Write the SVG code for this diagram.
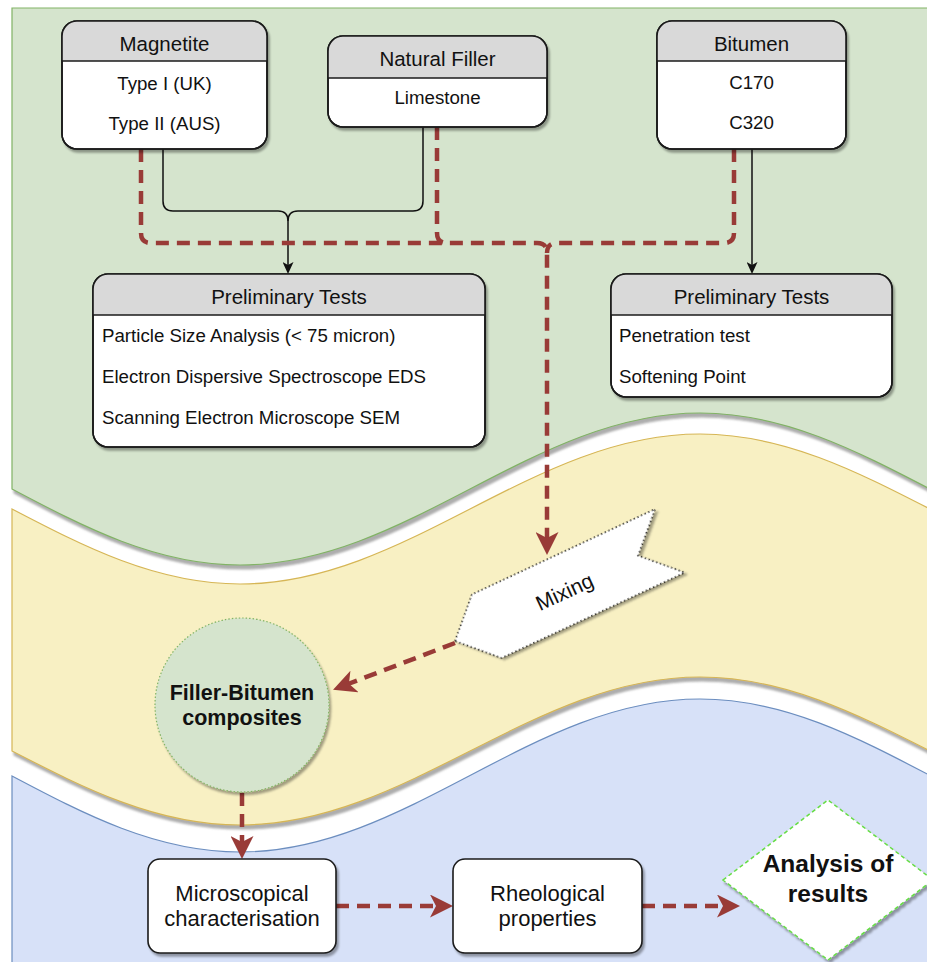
<svg xmlns="http://www.w3.org/2000/svg" width="927" height="962" viewBox="0 0 927 962">
<defs>
<style>
text{font-family:"Liberation Sans",Arial,Helvetica,sans-serif;fill:#111}
.hd{font-size:20.5px;text-anchor:middle}
.bd{font-size:18.7px}
.bc{text-anchor:middle}
.big{font-size:22px;text-anchor:middle}
.bold{font-weight:bold}
.box{fill:#fff;stroke:#1a1a1a;stroke-width:1.6}
.hdr{fill:#d9d9d9}
.ln{stroke:#1a1a1a;stroke-width:1.6;fill:none}
.blk{fill:none;stroke:#111;stroke-width:1.5}
.red{fill:none;stroke:#993b37;stroke-width:4.5;stroke-dasharray:13 8}
</style>
<filter id="sh" x="-10%" y="-10%" width="130%" height="130%">
<feDropShadow dx="2" dy="3" stdDeviation="1.2" flood-color="#000" flood-opacity="0.35"/>
</filter>
<filter id="bsh" x="-5%" y="-5%" width="115%" height="120%">
<feDropShadow dx="2" dy="4" stdDeviation="1" flood-color="#777" flood-opacity="0.6"/>
</filter>
<marker id="ar" viewBox="0 0 23 23" refX="7" refY="11.5" markerWidth="23" markerHeight="23" markerUnits="userSpaceOnUse" orient="auto">
<path d="M0,0 L23,11.5 L0,23 L6,11.5 Z" fill="#993b37"/>
</marker>
<marker id="ab" viewBox="0 0 12 11" refX="3" refY="5.5" markerWidth="12" markerHeight="11" markerUnits="userSpaceOnUse" orient="auto">
<path d="M0,0 L12,5.5 L0,11 L3,5.5 Z" fill="#111"/>
</marker>
</defs>

<g id="bands">
<path id="blue-band" d="M12,776 C84,814 156,852 240,852 C407.5,852 532.5,699 700,699 C867.5,699 992.5,852 1160,852 V970 H12 Z" fill="#d7e1f8" stroke="#6c8ebf" stroke-width="1.2"/>
<path id="yellow-band" filter="url(#bsh)" d="M12,509 C84,546.5 156,584 240,584 C407.5,584 532.5,434 700,434 C867.5,434 992.5,584 1160,584 V825 C992.5,825 867.5,677 700,677 C532.5,677 407.5,825 240,825 C156,825 84,788 12,751 Z" fill="#f8f0c3" stroke="#d6b656" stroke-width="1.2"/>
<path id="green-band" filter="url(#bsh)" d="M12,8 H1160 V565 C992.5,565 867.5,413 700,413 C532.5,413 407.5,565 240,565 C156,565 84,527 12,489 Z" fill="#d5e4cd" stroke="#82b366" stroke-width="1.2"/>
</g>

<g id="connectors">
<path class="blk" d="M163,149 V201 Q163,211 173,211 H278 Q288,211 288,221 V265" marker-end="url(#ab)"/>
<path class="blk" d="M423,127 V201 Q423,211 413,211 H298 Q288,211 288,221"/>
<path class="blk" d="M752,149 V265" marker-end="url(#ab)"/>
<path class="red" d="M141,149 V233 Q141,243 151,243 H537 Q547,243 547,253 V539" marker-end="url(#ar)"/>
<path class="red" d="M437,127 V233 Q437,243 447,243"/>
<path class="red" d="M734,149 V233 Q734,243 724,243 H557 Q547,243 547,253"/>
<path class="red" d="M455,643 L348,684" marker-end="url(#ar)"/>
<path class="red" d="M242,793 V843" marker-end="url(#ar)"/>
<path class="red" d="M336,906 H437" marker-end="url(#ar)"/>
<path class="red" d="M642,906 H724" marker-end="url(#ar)"/>
</g>

<g id="magnetite">
<rect class="box" x="62" y="21" width="205" height="128" rx="15" filter="url(#sh)"/>
<path class="hdr" d="M62,61 V36 A15,15 0 0 1 77,21 H252 A15,15 0 0 1 267,36 V61 Z"/>
<rect x="62" y="21" width="205" height="128" rx="15" fill="none" stroke="#1a1a1a" stroke-width="1.6"/>
<line class="ln" x1="62" y1="61" x2="267" y2="61"/>
<text class="hd" x="164.5" y="50.5">Magnetite</text>
<text class="bd bc" x="164.5" y="89.5">Type I (UK)</text>
<text class="bd bc" x="164.5" y="129.5">Type II (AUS)</text>
</g>

<g id="natural-filler">
<rect class="box" x="328" y="36" width="219" height="91" rx="15" filter="url(#sh)"/>
<path class="hdr" d="M328,78 V51 A15,15 0 0 1 343,36 H532 A15,15 0 0 1 547,51 V78 Z"/>
<rect x="328" y="36" width="219" height="91" rx="15" fill="none" stroke="#1a1a1a" stroke-width="1.6"/>
<line class="ln" x1="328" y1="78" x2="547" y2="78"/>
<text class="hd" x="437.5" y="66">Natural Filler</text>
<text class="bd bc" x="437.5" y="103.5">Limestone</text>
</g>

<g id="bitumen">
<rect class="box" x="657" y="21" width="189" height="128" rx="15" filter="url(#sh)"/>
<path class="hdr" d="M657,61 V36 A15,15 0 0 1 672,21 H831 A15,15 0 0 1 846,36 V61 Z"/>
<rect x="657" y="21" width="189" height="128" rx="15" fill="none" stroke="#1a1a1a" stroke-width="1.6"/>
<line class="ln" x1="657" y1="61" x2="846" y2="61"/>
<text class="hd" x="751.5" y="50.5">Bitumen</text>
<text class="bd bc" x="751.5" y="88.5">C170</text>
<text class="bd bc" x="751.5" y="128.5">C320</text>
</g>

<g id="prelim-filler">
<rect class="box" x="93" y="274" width="392" height="173" rx="15" filter="url(#sh)"/>
<path class="hdr" d="M93,315 V289 A15,15 0 0 1 108,274 H470 A15,15 0 0 1 485,289 V315 Z"/>
<rect x="93" y="274" width="392" height="173" rx="15" fill="none" stroke="#1a1a1a" stroke-width="1.6"/>
<line class="ln" x1="93" y1="315" x2="485" y2="315"/>
<text class="hd" x="289" y="304">Preliminary Tests</text>
<text class="bd" x="102" y="342">Particle Size Analysis (&lt; 75 micron)</text>
<text class="bd" x="102" y="383">Electron Dispersive Spectroscope EDS</text>
<text class="bd" x="102" y="423.5">Scanning Electron Microscope SEM</text>
</g>

<g id="prelim-bitumen">
<rect class="box" x="611" y="274" width="281" height="123" rx="15" filter="url(#sh)"/>
<path class="hdr" d="M611,315 V289 A15,15 0 0 1 626,274 H877 A15,15 0 0 1 892,289 V315 Z"/>
<rect x="611" y="274" width="281" height="123" rx="15" fill="none" stroke="#1a1a1a" stroke-width="1.6"/>
<line class="ln" x1="611" y1="315" x2="892" y2="315"/>
<text class="hd" x="751.5" y="304">Preliminary Tests</text>
<text class="bd" x="619" y="342">Penetration test</text>
<text class="bd" x="619" y="383">Softening Point</text>
</g>

<g id="mixing" transform="translate(455,641) rotate(-25)">
<polygon points="0,0 35,-35 237,-35 202,0 237,35 35,35" fill="#fff" stroke="#111" stroke-width="1.5" stroke-dasharray="1.5 2.5" filter="url(#sh)"/>
<text x="120" y="9" style="font-size:21px;text-anchor:middle">Mixing</text>
</g>

<g id="filler-bitumen">
<circle cx="242" cy="705" r="87" fill="#d5e4cd" stroke="#82b366" stroke-width="1.2" stroke-dasharray="1.5 2" filter="url(#sh)"/>
<text class="bold" x="242" y="700" style="font-size:21.5px;text-anchor:middle">Filler-Bitumen</text>
<text class="bold" x="242" y="725" style="font-size:21.5px;text-anchor:middle">composites</text>
</g>

<g id="microscopical">
<rect class="box" x="148" y="859" width="188" height="94" rx="12" filter="url(#sh)"/>
<text class="big" x="242" y="901">Microscopical</text>
<text class="big" x="242" y="926">characterisation</text>
</g>

<g id="rheological">
<rect class="box" x="453" y="859" width="189" height="94" rx="12" filter="url(#sh)"/>
<text class="big" x="547.5" y="901">Rheological</text>
<text class="big" x="547.5" y="926">properties</text>
</g>

<g id="analysis">
<polygon points="723,880 828,800 933,880 828,960" fill="#fff" stroke="#66dd44" stroke-width="1.5" stroke-dasharray="4 3" filter="url(#sh)"/>
<text class="bold" x="828" y="872" style="font-size:24.5px;text-anchor:middle">Analysis of</text>
<text class="bold" x="828" y="902" style="font-size:24.5px;text-anchor:middle">results</text>
</g>
</svg>
